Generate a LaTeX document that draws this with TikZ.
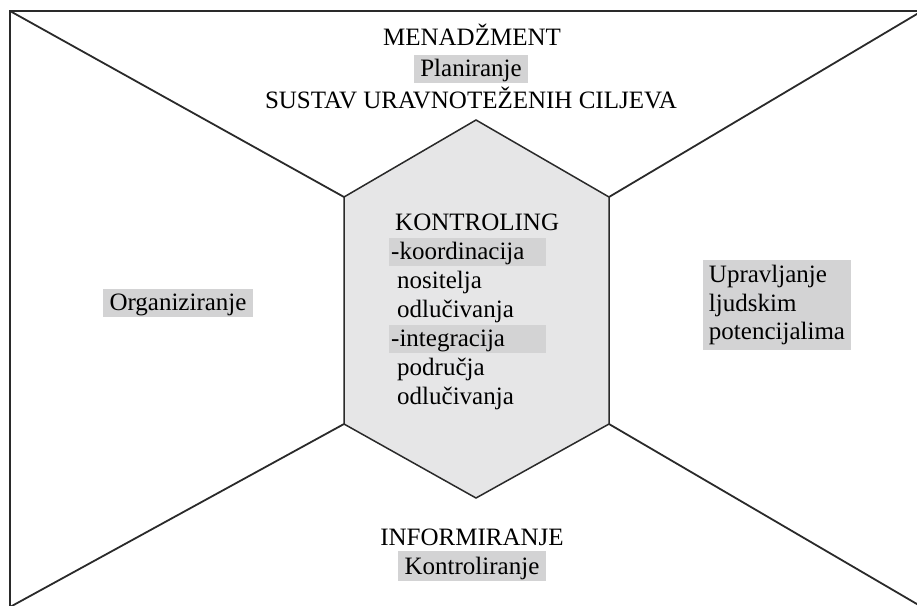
\documentclass[tikz,border=0pt]{standalone}
\usepackage{fontspec}
\setmainfont{Liberation Serif}
\usepackage{tikz}
\definecolor{hexgray}{HTML}{E6E6E7}
\definecolor{boxgray}{HTML}{D3D3D4}
\definecolor{linegray}{HTML}{2A2A2A}

\begin{document}
\begin{tikzpicture}[x=1pt, y=-1pt,
  txt/.style={font=\fontsize{25}{28.7}\selectfont, inner sep=0pt},
  hl/.style={txt, fill=boxgray, inner xsep=6.5pt, text height=20.5pt, text depth=6.5pt, inner ysep=0.5pt},
  frameline/.style={draw=linegray, line width=1.8pt},
  hexline/.style={draw=linegray, line width=1.5pt, fill=hexgray}]
\useasboundingbox (0,0) rectangle (917,605);
\clip (0,0) rectangle (917,605);
% frame and corners
\coordinate (tl) at (10,11);
\coordinate (tr) at (922,11);
\coordinate (bl) at (10,607);
\coordinate (br) at (922,607);
\draw[frameline] (tl) rectangle (br);
% hexagon
\coordinate (ht) at (476,120);
\coordinate (hur) at (609,197);
\coordinate (hlr) at (609,424);
\coordinate (hb) at (476,498);
\coordinate (hll) at (344,424);
\coordinate (hul) at (344,197);
\draw[frameline] (tl) -- (hul);
\draw[frameline] (tr) -- (hur);
\draw[frameline] (bl) -- (hll);
\draw[frameline] (br) -- (hlr);
\draw[hexline] (ht) -- (hur) -- (hlr) -- (hb) -- (hll) -- (hul) -- cycle;
% top
\node[txt, anchor=base] (men) at (472,45) {MENADŽMENT};
\node[hl, anchor=base] (plan) at (471,76) {Planiranje};
\node[txt, anchor=base] (sustav) at (471,108) {SUSTAV URAVNOTEŽENIH CILJEVA};
% centre
\node[txt, anchor=base west] (kon) at (395,230) {KONTROLING};
\node[hl, anchor=base west, inner xsep=2pt, text width=153pt] (koord) at (389,259) {-koordinacija};
\node[txt, anchor=base west] (nos) at (397,288) {nositelja};
\node[txt, anchor=base west] (odl1) at (397,317) {odlučivanja};
\node[hl, anchor=base west, inner xsep=2pt, text width=153pt] (integ) at (389,346) {-integracija};
\node[txt, anchor=base west] (podr) at (397,375) {područja};
\node[txt, anchor=base west] (odl2) at (397,404) {odlučivanja};
% sides
\node[hl, anchor=base] (org) at (178,310) {Organiziranje};
\node[txt, fill=boxgray, align=left, inner xsep=6pt, inner ysep=5pt] (uprav) at (777,305) {Upravljanje\\ljudskim\\potencijalima};
% bottom
\node[txt, anchor=base] (inf) at (472,545) {INFORMIRANJE};
\node[hl, anchor=base, text height=23pt] (kontr) at (472,574) {Kontroliranje};
\end{tikzpicture}
\end{document}
